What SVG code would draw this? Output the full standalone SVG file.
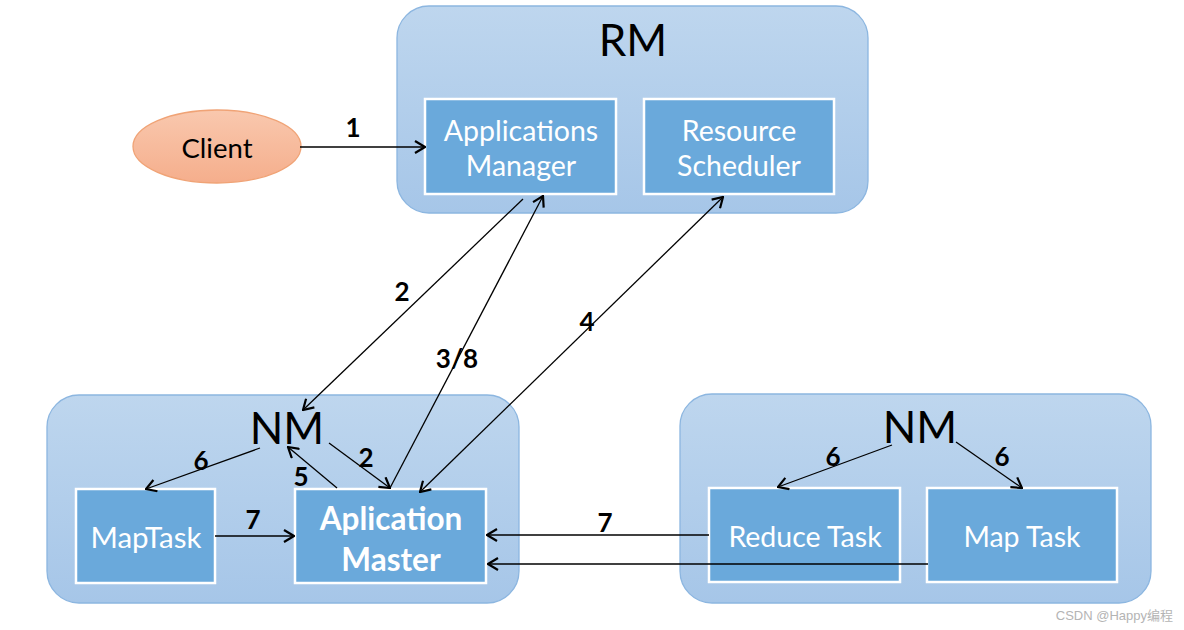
<svg xmlns="http://www.w3.org/2000/svg" width="1184" height="630" viewBox="0 0 1184 630">
<defs>
  <linearGradient id="gCont" x1="0" y1="0" x2="0" y2="1">
    <stop offset="0" stop-color="#bed6ee"/>
    <stop offset="1" stop-color="#a6c6e8"/>
  </linearGradient>
  <linearGradient id="gClient" x1="0" y1="0" x2="0" y2="1">
    <stop offset="0" stop-color="#f9c8ae"/>
    <stop offset="1" stop-color="#f5ae8c"/>
  </linearGradient>
  <marker id="ah" viewBox="0 0 12 14" refX="11" refY="7" markerWidth="12" markerHeight="14" markerUnits="userSpaceOnUse" orient="auto-start-reverse">
    <path d="M1,1 L11,7 L1,13" fill="none" stroke="#000" stroke-width="2.2" stroke-linejoin="miter"/>
  </marker>
</defs>
<style>
  .cont { fill: url(#gCont); stroke: #8cb6e0; stroke-width: 1.3; }
  .box { fill: #6aa9db; stroke: #ffffff; stroke-width: 2.5; }
  .title { font-family: Lato, "Liberation Sans", sans-serif; font-size: 44px; fill: #000; text-anchor: middle; }
  .bt { font-family: Lato, "Liberation Sans", sans-serif; font-size: 28.5px; fill: #ffffff; text-anchor: middle; }
  .btb { font-family: Lato, "Liberation Sans", sans-serif; font-size: 31.5px; font-weight: bold; fill: #ffffff; text-anchor: middle; }
  .lbl { font-family: Lato, "Liberation Sans", sans-serif; font-size: 26px; font-weight: bold; fill: #000; text-anchor: middle; }
  .ln { fill: none; stroke: #000; stroke-width: 1.3; }
</style>

<g id="rm">
  <rect class="cont" x="397" y="6" width="471" height="207" rx="32"/>
  <text class="title" x="633" y="56">RM</text>
</g>
<g id="appsManager">
  <rect class="box" x="425" y="99" width="191" height="95"/>
  <text class="bt" x="521" y="141">Applications</text>
  <text class="bt" x="521" y="176">Manager</text>
</g>
<g id="resourceScheduler">
  <rect class="box" x="644" y="99" width="190" height="95"/>
  <text class="bt" x="739" y="141">Resource</text>
  <text class="bt" x="739" y="176">Scheduler</text>
</g>
<g id="client">
  <ellipse cx="217" cy="146.5" rx="84" ry="36.5" fill="url(#gClient)" stroke="#f0a376" stroke-width="1.3"/>
  <text x="217" y="158" font-family="Lato, 'Liberation Sans', sans-serif" font-size="27.5" fill="#000" text-anchor="middle">Client</text>
</g>

<g id="nm1">
  <rect class="cont" x="47" y="395" width="472" height="208" rx="32"/>
  <text class="title" x="287" y="444">NM</text>
</g>
<g id="mapTask1">
  <rect class="box" x="76" y="489" width="139" height="94"/>
  <text class="bt" x="146" y="548" style="font-size:29.5px">MapTask</text>
</g>
<g id="appMaster">
  <rect class="box" x="295" y="489" width="191" height="94"/>
  <text class="btb" x="391" y="530">Aplication</text>
  <text class="btb" x="391" y="571">Master</text>
</g>

<g id="nm2">
  <rect class="cont" x="680" y="394" width="471" height="209" rx="32"/>
  <text class="title" x="920" y="443">NM</text>
</g>
<g id="reduceTask">
  <rect class="box" x="709" y="488" width="191" height="94"/>
  <text class="bt" x="805" y="547">Reduce Task</text>
</g>
<g id="mapTask2">
  <rect class="box" x="927" y="488" width="190" height="94"/>
  <text class="bt" x="1022" y="547">Map Task</text>
</g>

<g id="connectors">
  <line class="ln" x1="300" y1="147" x2="425" y2="147" marker-end="url(#ah)"/>
  <line class="ln" x1="523" y1="199" x2="303" y2="410" marker-end="url(#ah)"/>
  <line class="ln" x1="390" y1="488" x2="543" y2="196" marker-end="url(#ah)"/>
  <line class="ln" x1="420" y1="492" x2="723" y2="197" marker-start="url(#ah)" marker-end="url(#ah)"/>
  <line class="ln" x1="329" y1="443" x2="390" y2="488" marker-end="url(#ah)"/>
  <line class="ln" x1="337" y1="488" x2="288" y2="447" marker-end="url(#ah)"/>
  <line class="ln" x1="260" y1="448" x2="146" y2="489" marker-end="url(#ah)"/>
  <line class="ln" x1="215" y1="536" x2="294" y2="536" marker-end="url(#ah)"/>
  <line class="ln" x1="709" y1="535" x2="487" y2="535" marker-end="url(#ah)"/>
  <line class="ln" x1="928" y1="564" x2="488" y2="564" marker-end="url(#ah)"/>
  <line class="ln" x1="892" y1="445" x2="778" y2="487" marker-end="url(#ah)"/>
  <line class="ln" x1="956" y1="442" x2="1022" y2="488" marker-end="url(#ah)"/>
</g>

<g id="labels">
  <text class="lbl" x="353" y="137">1</text>
  <text class="lbl" x="402" y="301">2</text>
  <text class="lbl" x="457" y="368">3/8</text>
  <text class="lbl" x="587" y="331">4</text>
  <text class="lbl" x="366" y="467">2</text>
  <text class="lbl" x="301" y="486">5</text>
  <text class="lbl" x="201" y="470">6</text>
  <text class="lbl" x="253" y="529">7</text>
  <text class="lbl" x="605" y="532">7</text>
  <text class="lbl" x="833" y="466">6</text>
  <text class="lbl" x="1002" y="466">6</text>
</g>

<text x="1173" y="620" font-family="'Liberation Sans', 'Noto Sans CJK SC', sans-serif" font-size="13" fill="#b4b4b4" text-anchor="end">CSDN @Happy编程</text>
</svg>
